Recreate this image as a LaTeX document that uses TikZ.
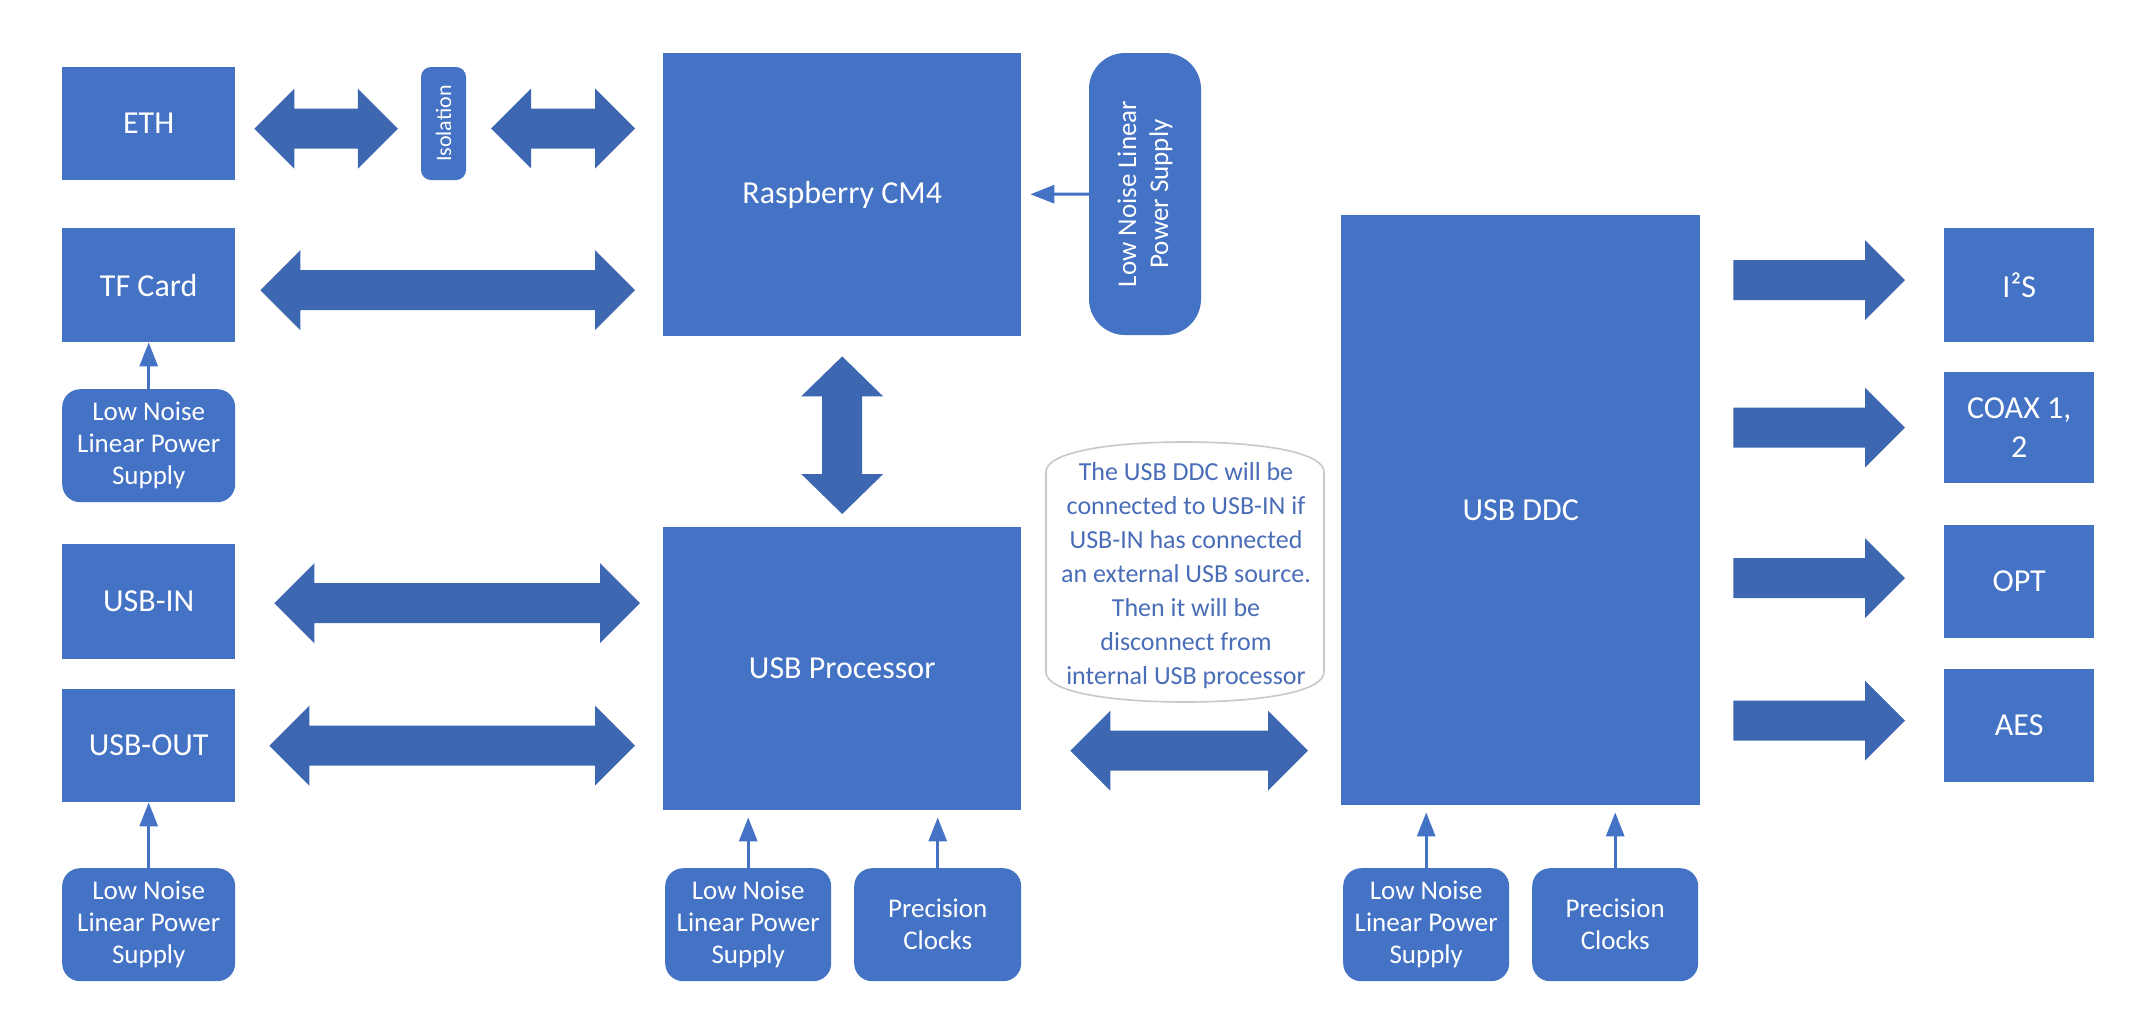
\documentclass[tikz,border=0pt]{standalone}
\usepackage{fontspec}
\setmainfont{Carlito}
\usetikzlibrary{calc,arrows.meta}
\definecolor{boxblue}{HTML}{4472C4}
\definecolor{arrblue}{HTML}{3D67B0}
\definecolor{notegray}{HTML}{C8C8C8}
\definecolor{notetext}{HTML}{4A6DB8}
\tikzset{
  blk/.style={fill=boxblue, text=white, inner sep=0pt, align=center, anchor=north west,
    font=\fontsize{32}{39}\selectfont},
  small/.style={font=\fontsize{27}{32}\selectfont},
  rbox/.style={blk, rounded corners=18pt, small},
  barrow/.style={fill=arrblue},
  thinarr/.style={draw=boxblue, line width=3pt, -{Triangle[width=18pt,length=24pt]}},
  noteline/.style={draw=notegray, line width=1.6pt, fill=white},
}
\newcommand\dblH[2]{\fill[barrow] let \p1=#1, \p2=#2 in
  (\x1,\y1) -- (\x1+40pt,\y1+40pt) -- (\x1+40pt,\y1+20pt) -- (\x2-40pt,\y1+20pt) --
  (\x2-40pt,\y1+40pt) -- (\x2,\y1) -- (\x2-40pt,\y1-40pt) -- (\x2-40pt,\y1-20pt) --
  (\x1+40pt,\y1-20pt) -- (\x1+40pt,\y1-40pt) -- cycle;}
\newcommand\singH[2]{\fill[barrow] let \p1=#1, \p2=#2 in
  (\x1,\y1+20pt) -- (\x2-40pt,\y1+20pt) -- (\x2-40pt,\y1+40pt) -- (\x2,\y1) --
  (\x2-40pt,\y1-40pt) -- (\x2-40pt,\y1-20pt) -- (\x1,\y1-20pt) -- cycle;}
\newcommand\dblV[2]{\fill[barrow] let \p1=#1, \p2=#2 in
  (\x1,\y1) -- (\x1+41pt,\y1-40pt) -- (\x1+20pt,\y1-40pt) -- (\x1+20pt,\y2+40pt) --
  (\x1+41pt,\y2+40pt) -- (\x1,\y2) -- (\x1-41pt,\y2+40pt) -- (\x1-20pt,\y2+40pt) --
  (\x1-20pt,\y1-40pt) -- (\x1-41pt,\y1-40pt) -- cycle;}
\begin{document}
\begin{tikzpicture}[x=1pt,y=-1pt]
\useasboundingbox[fill=white] (0,0) rectangle (2149,1029);

% left column
\node[blk, minimum width=173pt, minimum height=113pt] (eth) at (62,67) {ETH};
\node[blk, minimum width=173pt, minimum height=114pt] (tf) at (62,228) {TF Card};
\node[rbox, minimum width=173pt, minimum height=113pt] (lntf) at (62,389) {Low Noise\\Linear Power\\Supply};
\node[blk, minimum width=173pt, minimum height=115pt] (usbin) at (62,544) {USB-IN};
\node[blk, minimum width=173pt, minimum height=113pt] (usbout) at (62,689) {USB-OUT};
\node[rbox, minimum width=173pt, minimum height=113pt] (lnout) at (62,868) {Low Noise\\Linear Power\\Supply};

% isolation
\node[fill=boxblue, text=white, inner sep=0pt, rounded corners=10pt, rotate=90,
  minimum width=113pt, minimum height=45pt, font=\fontsize{22}{26}\selectfont]
  (iso) at (443.5,123.5) {Isolation};

% Raspberry and USB processor
\node[blk, minimum width=358pt, minimum height=283pt] (rpi) at (663,53) {Raspberry CM4};
\node[blk, minimum width=358pt, minimum height=283pt] (usbp) at (663,527) {USB Processor};
\node[rbox, minimum width=166pt, minimum height=113pt] (lnp) at (665,868) {Low Noise\\Linear Power\\Supply};
\node[rbox, minimum width=167pt, minimum height=113pt] (pcp) at (854,868) {Precision\\Clocks};

% rotated power supply
\node[fill=boxblue, text=white, inner sep=0pt, rounded corners=36pt, rotate=90, align=center,
  minimum width=282pt, minimum height=112pt, small]
  (lnr) at (1145,194) {Low Noise Linear\\Power Supply};

% USB DDC
\node[blk, minimum width=359pt, minimum height=590pt] (ddc) at (1341,215) {USB DDC};
\node[rbox, minimum width=166pt, minimum height=113pt] (lnd) at (1343,868) {Low Noise\\Linear Power\\Supply};
\node[rbox, minimum width=166pt, minimum height=113pt] (pcd) at (1532,868) {Precision\\Clocks};

% outputs
\node[blk, minimum width=150pt, minimum height=114pt] (i2s) at (1944,228) {I²S};
\node[blk, minimum width=150pt, minimum height=111pt] (coax) at (1944,372) {COAX 1,\\2};
\node[blk, minimum width=150pt, minimum height=113pt] (opt) at (1944,525) {OPT};
\node[blk, minimum width=150pt, minimum height=113pt] (aes) at (1944,669) {AES};

% callout
\draw[noteline] (1046,472) .. controls (1046,452) and (1110,442) .. (1185,442)
  .. controls (1260,442) and (1324,452) .. (1324,472) -- (1324,672)
  .. controls (1324,692) and (1260,702) .. (1185,702)
  .. controls (1110,702) and (1046,692) .. (1046,672) -- cycle;
\node[text=notetext, align=center, inner sep=0pt, font=\fontsize{26}{34}\selectfont]
  (note) at (1186,576) {The USB DDC will be\\connected to USB-IN if\\USB-IN has connected\\an external USB source.\\Then it will be\\disconnect from\\internal USB processor};

% block arrows (iso is rotated: its north anchor is on the left, south on the right)
\dblH{($(eth.east)+(19,5)$)}{($(iso.north)+(-23,5)$)}
\dblH{($(iso.south)+(25,5)$)}{($(rpi.west |- iso.center)+(-28,5)$)}
\dblH{($(tf.east)+(25,5)$)}{($(rpi.west |- tf.east)+(-28,5)$)}
\dblV{($(rpi.south)+(0,20)$)}{($(usbp.north)+(0,-13)$)}
\dblH{($(usbin.east)+(39,1.5)$)}{($(usbp.west |- usbin.east)+(-23,1.5)$)}
\dblH{($(usbout.east)+(34,0)$)}{($(usbp.west |- usbout.east)+(-28,0)$)}
\dblH{($(usbp.east |- usbout.east)+(49,5)$)}{($(ddc.west |- usbout.east)+(-33,5)$)}
\singH{($(ddc.east |- i2s.west)+(33,-5)$)}{($(i2s.west)+(-39,-5)$)}
\singH{($(ddc.east |- coax.west)+(33,0)$)}{($(coax.west)+(-39,0)$)}
\singH{($(ddc.east |- opt.west)+(33,-3.5)$)}{($(opt.west)+(-39,-3.5)$)}
\singH{($(ddc.east |- aes.west)+(33,-5)$)}{($(aes.west)+(-39,-5)$)}

% thin arrows
\draw[thinarr] (lntf.north) -- (tf.south);
\draw[thinarr] (lnout.north) -- (usbout.south);
\draw[thinarr, shorten >=7pt] (lnp.north) -- (lnp.north |- usbp.south);
\draw[thinarr, shorten >=7pt] (pcp.north) -- (pcp.north |- usbp.south);
\draw[thinarr, shorten >=7pt] (lnd.north) -- (lnd.north |- ddc.south);
\draw[thinarr, shorten >=7pt] (pcd.north) -- (pcd.north |- ddc.south);
\draw[thinarr, shorten >=9pt] (lnr) -- (rpi);
\end{tikzpicture}
\end{document}
